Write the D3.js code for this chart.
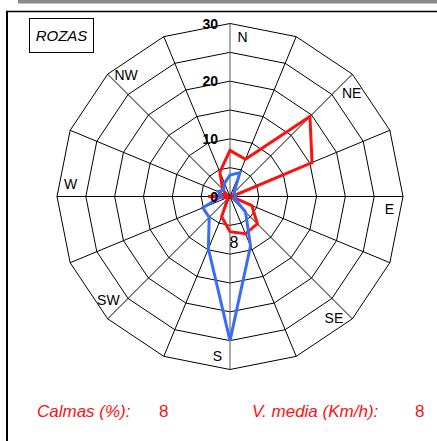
<!DOCTYPE html>
<html><head><meta charset="utf-8">
<script src="https://cdn.jsdelivr.net/npm/d3@7"></script>
<style>html,body{margin:0;padding:0;background:#fff;}svg{display:block;font-family:"Liberation Sans",Arial,Helvetica,sans-serif;}</style>
</head><body>
<script>
const directions = ["N","NNE","NE","ENE","E","ESE","SE","SSE","S","SSW","SW","WSW","W","WNW","NW","NNW"];
const compassLabels = ["N","NE","E","SE","S","SW","W","NW"];
const frequencyRed = [8, 7, 19.6, 15.4, 0.3, 4.1, 6.7, 7, 6.1, 3.8, 0.6, 0.5, 3.8, 0.6, 1.8, 4.6];
const speedBlue = [3.7, 4.5, 1, 1, 1, 0.8, 3.8, 9.3, 25, 9.8, 5.1, 5.1, 1.5, 2.2, 1.6, 2.5];
const ringLevels = [5, 10, 15, 20, 25, 30];
const ringTickLabels = [0, 10, 20, 30];
const stationName = "ROZAS";
const calmasLabel = "Calmas (%):", calmasValue = "8";
const vmediaLabel = "V. media (Km/h):", vmediaValue = "8";
const roseCenterLabel = "8";

const W = 437, H = 441, cx = 230, cy = 196.5, R = 173;
const svg = d3.select("body").append("svg").attr("width", W).attr("height", H);

// frame
svg.append("rect").attr("x", 18).attr("y", 0).attr("width", W - 18).attr("height", 3.5).attr("fill", "#8a8a8a");
svg.append("line").attr("x1", 6).attr("x2", W).attr("y1", 11.5).attr("y2", 11.5).attr("stroke", "#000").attr("stroke-width", 1.5);
svg.append("line").attr("x1", 7).attr("x2", 7).attr("y1", 11).attr("y2", H).attr("stroke", "#000").attr("stroke-width", 2);

const r = d3.scaleLinear().domain([0, 30]).range([0, R]);
const angle = d3.scalePoint().domain(directions).range([0, 2 * Math.PI * (15 / 16)]);
const g = svg.append("g").attr("transform", `translate(${cx},${cy})`);

// rings
const ringLine = d3.lineRadial().curve(d3.curveLinearClosed);
ringLevels.forEach(v => {
  g.append("path").attr("d", ringLine(directions.map(d => [angle(d), r(v)])))
    .attr("fill", "none").attr("stroke", "#000").attr("stroke-width", 1);
});
// spokes
directions.forEach((d, i) => {
  const a = angle(d);
  const vertical = (d === "N" || d === "S");
  g.append("line").attr("x1", 0).attr("y1", 0)
    .attr("x2", r(30) * Math.sin(a)).attr("y2", -r(30) * Math.cos(a))
    .attr("stroke", vertical ? "#555" : "#000").attr("stroke-width", 1);
});

// series
const seriesLine = d3.lineRadial().curve(d3.curveLinearClosed);
g.append("path").attr("d", seriesLine(directions.map((d, i) => [angle(d), r(frequencyRed[i])])))
  .attr("fill", "none").attr("stroke", "#ff1010").attr("stroke-width", 3).attr("stroke-linejoin", "miter");
g.append("path").attr("d", seriesLine(directions.map((d, i) => [angle(d), r(speedBlue[i])])))
  .attr("fill", "none").attr("stroke", "#3b6cf6").attr("stroke-width", 3).attr("stroke-linejoin", "miter");

// ring tick labels
ringTickLabels.forEach(v => {
  g.append("text").attr("x", -12).attr("y", -r(v)).attr("dy", "0.36em")
    .attr("text-anchor", "end").attr("font-size", 14).attr("font-weight", "bold")
    .attr("fill", "#000").text(v);
});

// compass labels
const off = 4.5 * Math.PI / 180;
compassLabels.forEach(d => {
  const a = angle(d) + off, rr = 160;
  g.append("text").attr("x", rr * Math.sin(a)).attr("y", -rr * Math.cos(a)).attr("dy", "0.36em")
    .attr("text-anchor", "middle").attr("font-size", 14).attr("fill", "#000").text(d);
});

// value label on rose
g.append("text").attr("x", 4).attr("y", r(8)).attr("dy", "0.36em").attr("text-anchor", "middle")
  .attr("font-size", 16).attr("fill", "#000").text(roseCenterLabel);

// station box
svg.append("rect").attr("x", 29.5).attr("y", 18.5).attr("width", 64).attr("height", 34)
  .attr("fill", "#fff").attr("stroke", "#000").attr("stroke-width", 1);
svg.append("text").attr("x", 61.5).attr("y", 35.5).attr("dy", "0.36em").attr("text-anchor", "middle")
  .attr("font-size", 15).attr("font-style", "italic").text(stationName);

// bottom texts
const bt = svg.append("g").attr("fill", "#ff1010").attr("font-size", 17);
bt.append("text").attr("x", 37).attr("y", 417).attr("font-style", "italic").text(calmasLabel);
bt.append("text").attr("x", 159).attr("y", 417).text(calmasValue);
bt.append("text").attr("x", 252).attr("y", 417).attr("font-style", "italic").text(vmediaLabel);
bt.append("text").attr("x", 415).attr("y", 417).text(vmediaValue);
</script>
</body></html>
